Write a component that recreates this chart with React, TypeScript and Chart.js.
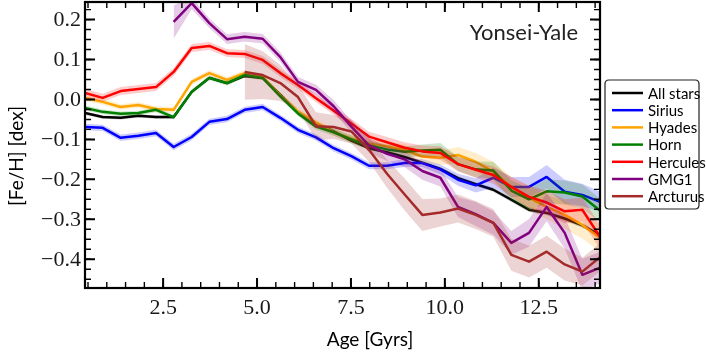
import React, { useEffect, useRef } from "react";
import { Chart, registerables } from "chart.js";
Chart.register(...registerables);

// Age bin centres [Gyr]
const ages = [0.42, 0.89, 1.37, 1.84, 2.31, 2.78, 3.26, 3.73, 4.2, 4.67, 5.15, 5.62, 6.09, 6.57, 7.04, 7.51, 7.98, 8.46, 8.93, 9.4, 9.88, 10.35, 10.82, 11.29, 11.77, 12.24, 12.71, 13.19, 13.66, 14.13];

const allStars = [-0.034, -0.044, -0.046, -0.041, -0.044, -0.044, 0.019, 0.054, 0.041, 0.059, 0.054, 0.012, -0.032, -0.06, -0.08, -0.103, -0.122, -0.132, -0.144, -0.158, -0.174, -0.197, -0.212, -0.226, -0.251, -0.276, -0.284, -0.298, -0.315, -0.34];
const allStarsErr = [0.004, 0.004, 0.004, 0.004, 0.004, 0.004, 0.004, 0.004, 0.004, 0.004, 0.004, 0.004, 0.004, 0.004, 0.004, 0.004, 0.004, 0.004, 0.004, 0.004, 0.005, 0.005, 0.005, 0.005, 0.006, 0.006, 0.006, 0.006, 0.006, 0.006];

const sirius = [-0.069, -0.071, -0.096, -0.091, -0.084, -0.119, -0.094, -0.056, -0.049, -0.026, -0.019, -0.046, -0.076, -0.095, -0.122, -0.142, -0.166, -0.166, -0.159, -0.159, -0.175, -0.201, -0.215, -0.196, -0.219, -0.219, -0.194, -0.231, -0.239, -0.256];
const siriusErr = [0.008, 0.008, 0.008, 0.008, 0.008, 0.008, 0.008, 0.008, 0.008, 0.008, 0.008, 0.008, 0.008, 0.008, 0.008, 0.008, 0.009, 0.009, 0.01, 0.01, 0.012, 0.015, 0.018, 0.025, 0.025, 0.025, 0.03, 0.03, 0.028, 0.025];

const hyades = [0.004, -0.006, -0.019, -0.014, -0.024, -0.026, 0.044, 0.066, 0.049, 0.066, 0.056, 0.01, -0.03, -0.058, -0.082, -0.098, -0.11, -0.118, -0.126, -0.143, -0.146, -0.139, -0.156, -0.181, -0.219, -0.246, -0.269, -0.289, -0.314, -0.346];
const hyadesErr = [0.007, 0.007, 0.007, 0.007, 0.007, 0.007, 0.007, 0.007, 0.007, 0.007, 0.007, 0.007, 0.008, 0.008, 0.009, 0.01, 0.011, 0.012, 0.014, 0.016, 0.018, 0.02, 0.022, 0.025, 0.025, 0.03, 0.03, 0.035, 0.035, 0.035];

const horn = [-0.021, -0.031, -0.036, -0.034, -0.026, -0.044, 0.019, 0.054, 0.041, 0.061, 0.054, 0.008, -0.035, -0.068, -0.082, -0.1, -0.115, -0.125, -0.131, -0.128, -0.126, -0.162, -0.175, -0.178, -0.228, -0.25, -0.23, -0.233, -0.243, -0.278];
const hornErr = [0.006, 0.006, 0.006, 0.006, 0.006, 0.006, 0.006, 0.006, 0.006, 0.006, 0.006, 0.006, 0.007, 0.008, 0.009, 0.01, 0.011, 0.012, 0.013, 0.015, 0.017, 0.018, 0.02, 0.022, 0.025, 0.028, 0.03, 0.03, 0.03, 0.03];

const hercules = [0.016, 0.004, 0.021, 0.026, 0.031, 0.069, 0.129, 0.134, 0.116, 0.114, 0.099, 0.066, 0.036, 0.003, -0.028, -0.06, -0.093, -0.107, -0.121, -0.13, -0.134, -0.162, -0.176, -0.189, -0.219, -0.244, -0.258, -0.28, -0.276, -0.344];
const herculesErr = [0.01, 0.01, 0.01, 0.01, 0.01, 0.01, 0.01, 0.01, 0.01, 0.01, 0.01, 0.01, 0.01, 0.01, 0.01, 0.011, 0.012, 0.013, 0.014, 0.015, 0.017, 0.018, 0.02, 0.022, 0.025, 0.028, 0.03, 0.03, 0.03, 0.03];

const gmg1 = [null, null, null, null, null, 0.194, 0.241, 0.191, 0.151, 0.157, 0.152, 0.106, 0.044, 0.024, -0.017, -0.068, -0.115, -0.136, -0.15, -0.179, -0.196, -0.269, -0.287, -0.309, -0.359, -0.334, -0.269, -0.334, -0.439, -0.421];
const gmg1Err = [null, null, null, null, null, 0.042, 0.015, 0.012, 0.012, 0.012, 0.012, 0.012, 0.012, 0.013, 0.015, 0.015, 0.018, 0.018, 0.02, 0.022, 0.022, 0.025, 0.03, 0.03, 0.03, 0.035, 0.035, 0.04, 0.04, 0.04];

const arcturus = [null, null, null, null, null, null, null, null, null, 0.069, 0.061, 0.041, 0.006, -0.067, -0.069, -0.08, -0.126, -0.186, -0.238, -0.289, -0.283, -0.273, -0.289, -0.309, -0.389, -0.406, -0.381, -0.413, -0.431, -0.395];
const arcturusErr = [null, null, null, null, null, null, null, null, null, 0.07, 0.06, 0.045, 0.03, 0.035, 0.03, 0.03, 0.03, 0.035, 0.04, 0.04, 0.035, 0.035, 0.035, 0.035, 0.04, 0.04, 0.04, 0.04, 0.035, 0.035];

const seriesLabels = ["All stars", "Sirius", "Hyades", "Horn", "Hercules", "GMG1", "Arcturus"];
const seriesColors = ["#000000", "#0000ff", "#ffa500", "#008000", "#ff0000", "#800080", "#a52a2a"];
const bandColors = ["rgba(0,0,0,0.2)", "rgba(0,0,255,0.2)", "rgba(255,165,0,0.2)", "rgba(0,128,0,0.2)", "rgba(255,0,0,0.2)", "rgba(128,0,128,0.2)", "rgba(165,42,42,0.2)"];
const seriesValues = [allStars, sirius, hyades, horn, hercules, gmg1, arcturus];
const seriesErrors = [allStarsErr, siriusErr, hyadesErr, hornErr, herculesErr, gmg1Err, arcturusErr];

const xTickValues = [2.5, 5.0, 7.5, 10.0, 12.5];
const yTickValues = [-0.4, -0.3, -0.2, -0.1, 0.0, 0.1, 0.2];
const xMin = 0.42, xMax = 14.13, yMin = -0.472, yMax = 0.244;
const modelLabel = "Yonsei-Yale";
const xTitle = "Age [Gyrs]";
const yTitle = "[Fe/H] [dex]";
const TICK_FONT = "22px 'Liberation Serif'";

const fmt = (v: number) => {
  const s = Math.abs(v).toFixed(1);
  return v < -1e-9 ? "\u2212" + s : s;
};

function pts(vals: (number | null)[], errs: (number | null)[], sign: number) {
  const out: { x: number; y: number }[] = [];
  vals.forEach((v, i) => {
    if (v == null) return;
    const e = errs[i] ?? 0;
    out.push({ x: ages[i], y: v + sign * e });
  });
  return out;
}

const decorPlugin = {
  id: "decor",
  afterDraw(chart: any) {
    const { ctx, chartArea } = chart;
    const { left, right, top, bottom } = chartArea;
    const xs = chart.scales.x;
    const ys = chart.scales.y;
    ctx.save();
    ctx.strokeStyle = "#000";
    // minor ticks
    ctx.lineWidth = 1.4;
    for (let v = 0.5; v <= 14.01; v += 0.5) {
      const px = xs.getPixelForValue(v);
      if (px < left || px > right) continue;
      ctx.beginPath();
      ctx.moveTo(px, bottom); ctx.lineTo(px, bottom - 6);
      ctx.moveTo(px, top); ctx.lineTo(px, top + 6);
      ctx.stroke();
    }
    for (let v = -0.475; v <= 0.25; v += 0.025) {
      const py = ys.getPixelForValue(v);
      if (py < top || py > bottom) continue;
      ctx.beginPath();
      ctx.moveTo(left, py); ctx.lineTo(left + 6, py);
      ctx.moveTo(right, py); ctx.lineTo(right - 6, py);
      ctx.stroke();
    }
    // major ticks
    ctx.lineWidth = 2;
    xTickValues.forEach((v) => {
      const px = xs.getPixelForValue(v);
      ctx.beginPath();
      ctx.moveTo(px, bottom); ctx.lineTo(px, bottom - 10);
      ctx.moveTo(px, top); ctx.lineTo(px, top + 10);
      ctx.stroke();
    });
    yTickValues.forEach((v) => {
      const py = ys.getPixelForValue(v);
      ctx.beginPath();
      ctx.moveTo(left, py); ctx.lineTo(left + 10, py);
      ctx.moveTo(right, py); ctx.lineTo(right - 10, py);
      ctx.stroke();
    });
    // frame
    ctx.lineWidth = 2.2;
    ctx.strokeRect(left, top, right - left, bottom - top);

    // tick labels (serif, like the reference)
    ctx.fillStyle = "#1a1a1a";
    ctx.font = TICK_FONT;
    ctx.textAlign = "center";
    ctx.textBaseline = "top";
    xTickValues.forEach((v) => {
      ctx.fillText(fmt(v), xs.getPixelForValue(v), bottom + 9);
    });
    ctx.textAlign = "right";
    ctx.textBaseline = "middle";
    yTickValues.forEach((v) => {
      ctx.fillText(fmt(v), left - 4, ys.getPixelForValue(v) + 1);
    });

    // model label
    ctx.fillStyle = "#222";
    ctx.font = "22px Lato";
    ctx.textAlign = "right";
    ctx.textBaseline = "alphabetic";
    ctx.fillText(modelLabel, 578, 40);

    // axis titles
    ctx.fillStyle = "#000";
    ctx.font = "19px Lato";
    ctx.textAlign = "center";
    ctx.textBaseline = "middle";
    ctx.fillText(xTitle, 370, 340);
    ctx.save();
    ctx.translate(17, 156);
    ctx.rotate(-Math.PI / 2);
    ctx.fillText(yTitle, 0, 0);
    ctx.restore();

    // legend
    const bx = 605, by = 80, bw = 94, bh = 129, r = 4;
    ctx.beginPath();
    ctx.moveTo(bx + r, by);
    ctx.lineTo(bx + bw - r, by);
    ctx.quadraticCurveTo(bx + bw, by, bx + bw, by + r);
    ctx.lineTo(bx + bw, by + bh - r);
    ctx.quadraticCurveTo(bx + bw, by + bh, bx + bw - r, by + bh);
    ctx.lineTo(bx + r, by + bh);
    ctx.quadraticCurveTo(bx, by + bh, bx, by + bh - r);
    ctx.lineTo(bx, by + r);
    ctx.quadraticCurveTo(bx, by, bx + r, by);
    ctx.closePath();
    ctx.fillStyle = "rgba(255,255,255,0.9)";
    ctx.fill();
    ctx.strokeStyle = "#222";
    ctx.lineWidth = 1.2;
    ctx.stroke();
    ctx.font = "15px Lato";
    ctx.textAlign = "left";
    ctx.textBaseline = "middle";
    seriesLabels.forEach((lab, i) => {
      const yy = 93 + i * 17.2;
      ctx.strokeStyle = seriesColors[i];
      ctx.lineWidth = 2.5;
      ctx.beginPath();
      ctx.moveTo(612, yy); ctx.lineTo(643, yy);
      ctx.stroke();
      ctx.fillStyle = "#000";
      ctx.fillText(lab, 648, yy + 1);
    });
    ctx.restore();
  },
};

export default function App() {
  const ref = useRef<HTMLCanvasElement>(null);
  useEffect(() => {
    if (!ref.current) return;
    const datasets: any[] = [];
    seriesLabels.forEach((lab, i) => {
      const vals = seriesValues[i];
      const errs = seriesErrors[i];
      const base = 100 - 3 * i;
      datasets.push({
        label: lab + " upper",
        data: pts(vals, errs, 1),
        borderWidth: 0,
        pointRadius: 0,
        fill: false,
        order: base,
        clip: 0,
      });
      datasets.push({
        label: lab + " lower",
        data: pts(vals, errs, -1),
        borderWidth: 0,
        pointRadius: 0,
        fill: "-1",
        backgroundColor: bandColors[i],
        order: base - 1,
        clip: 0,
      });
      datasets.push({
        label: lab,
        data: pts(vals, errs, 0),
        borderColor: seriesColors[i],
        borderWidth: 2.5,
        borderJoinStyle: "round",
        pointRadius: 0,
        fill: false,
        tension: 0,
        order: base - 2,
        clip: 0,
      });
    });
    const chart = new Chart(ref.current, {
      type: "line",
      data: { datasets },
      plugins: [decorPlugin],
      options: {
        animation: false,
        responsive: false,
        devicePixelRatio: 1,
        layout: { padding: { left: 0, right: 106, top: 2, bottom: 0 } },
        plugins: { legend: { display: false }, tooltip: { enabled: false } },
        scales: {
          x: {
            type: "linear",
            min: xMin,
            max: xMax,
            grid: { display: false, drawTicks: false },
            border: { display: false },
            afterFit: (s: any) => { s.height = 65; },
            afterBuildTicks: (s: any) => { s.ticks = xTickValues.map((v) => ({ value: v })); },
            ticks: { display: false },
          },
          y: {
            type: "linear",
            min: yMin,
            max: yMax,
            grid: { display: false, drawTicks: false },
            border: { display: false },
            afterFit: (s: any) => { s.width = 85; },
            afterBuildTicks: (s: any) => { s.ticks = yTickValues.map((v) => ({ value: v })); },
            ticks: { display: false },
          },
        },
      },
    });
    return () => chart.destroy();
  }, []);
  return (
    <div style={{ position: "fixed", left: 0, top: 0, width: 706, height: 353, background: "#fff" }}>
      <canvas ref={ref} width={706} height={353} style={{ display: "block", width: 706, height: 353 }} />
    </div>
  );
}
